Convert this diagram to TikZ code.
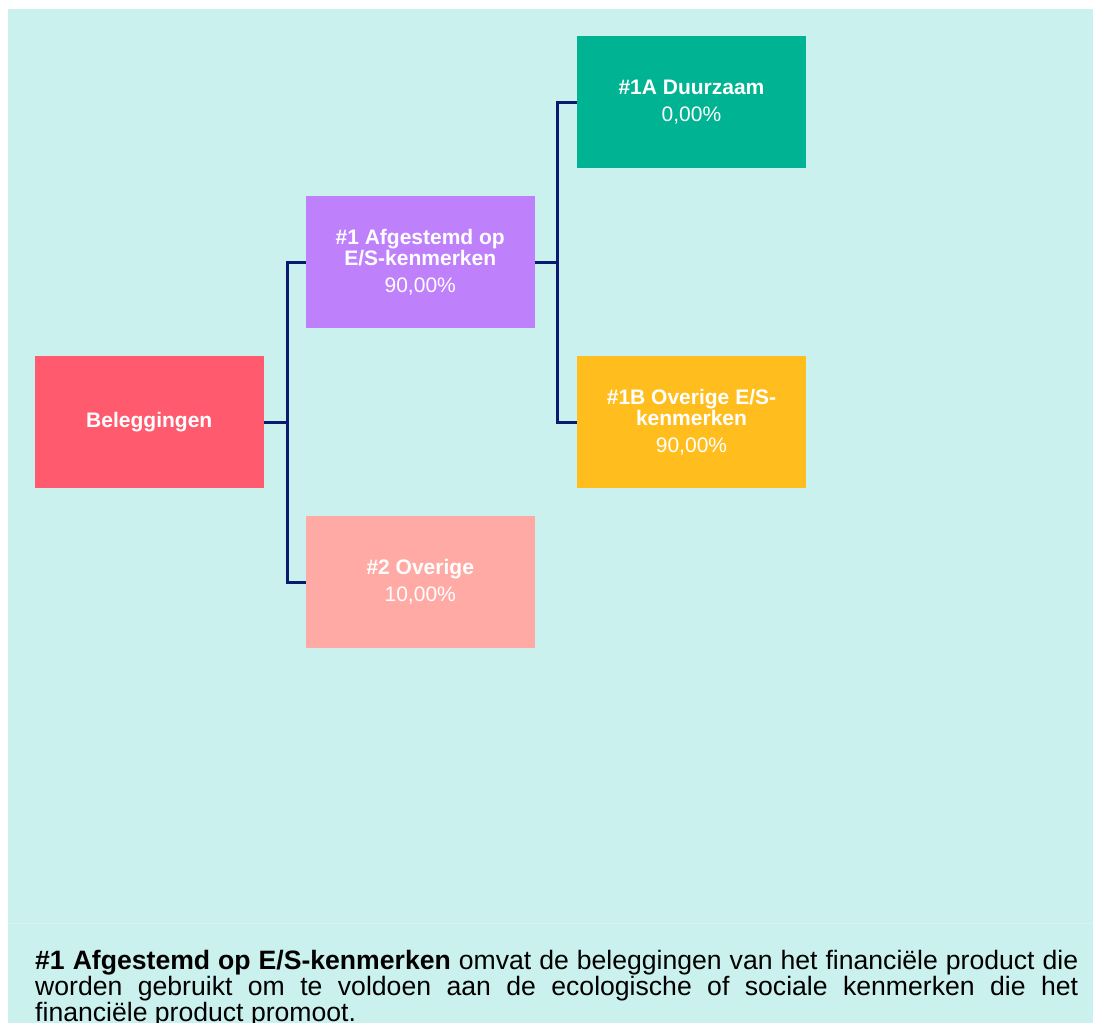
\documentclass[tikz,border=0pt]{standalone}
\usepackage{fontspec}
\setmainfont{Liberation Sans}
\definecolor{bg}{HTML}{CAF1ED}
\definecolor{seamc}{HTML}{D6F5F1}
\definecolor{belc}{HTML}{FF5A6E}
\definecolor{purp}{HTML}{BF80FC}
\definecolor{salm}{HTML}{FFAAA5}
\definecolor{grn}{HTML}{00B493}
\definecolor{yel}{HTML}{FFBE1E}
\definecolor{navy}{HTML}{0A1A70}
\begin{document}
\begin{tikzpicture}[x=1pt,y=-1pt,
  box/.style={rectangle, minimum width=228.5pt, minimum height=132.5pt, inner sep=0pt,
    align=center, text=white, font=\fontsize{21}{21}\selectfont},
  conn/.style={draw=navy, line width=3pt},
  bodytext/.style={anchor=base west, text width=1043pt, align=justify, inner sep=0pt,
    font=\fontsize{26.6}{26}\selectfont, text=black}]
\clip (0,0) rectangle (1093,1023);
\fill[white] (0,0) rectangle (1093,1023);
\fill[bg] (8,9) rectangle (1093,1023);
\draw[seamc, line width=1pt] (8,923.5) -- (1093,923.5);

\node[box, fill=belc] (bel) at (149.25,422) {\bfseries Beleggingen};
\node[box, fill=purp] (n1) at (420.25,262) {\textbf{\#1 Afgestemd op}\\\textbf{E/S-kenmerken}\\[6pt]90,00\%};
\node[box, fill=salm] (n2) at (420.25,582) {\textbf{\#2 Overige}\\[6pt]10,00\%};
\node[box, fill=grn] (n1a) at (691.5,102) {\textbf{\#1A Duurzaam}\\[6pt]0,00\%};
\node[box, fill=yel] (n1b) at (691.5,422) {\textbf{\#1B Overige E/S-}\\\textbf{kenmerken}\\[6pt]90,00\%};

\coordinate (j1) at (287,422);
\coordinate (j2) at (557,262);
\draw[conn] (bel.east) -- (j1);
\draw[conn] (j1) |- (n1.west);
\draw[conn] (j1) |- (n2.west);
\draw[conn] (n1.east) -- (j2);
\draw[conn] (j2) |- (n1a.west);
\draw[conn] (j2) |- (n1b.west);

\node[bodytext] (txt) at (35,969) {\hyphenpenalty=10000 \textbf{\#1 Afgestemd op E/S-kenmerken} omvat de beleggingen van het financiële product die\linebreak
worden gebruikt om te voldoen aan de ecologische of sociale kenmerken die het\linebreak
financiële product promoot.};
\end{tikzpicture}
\end{document}
